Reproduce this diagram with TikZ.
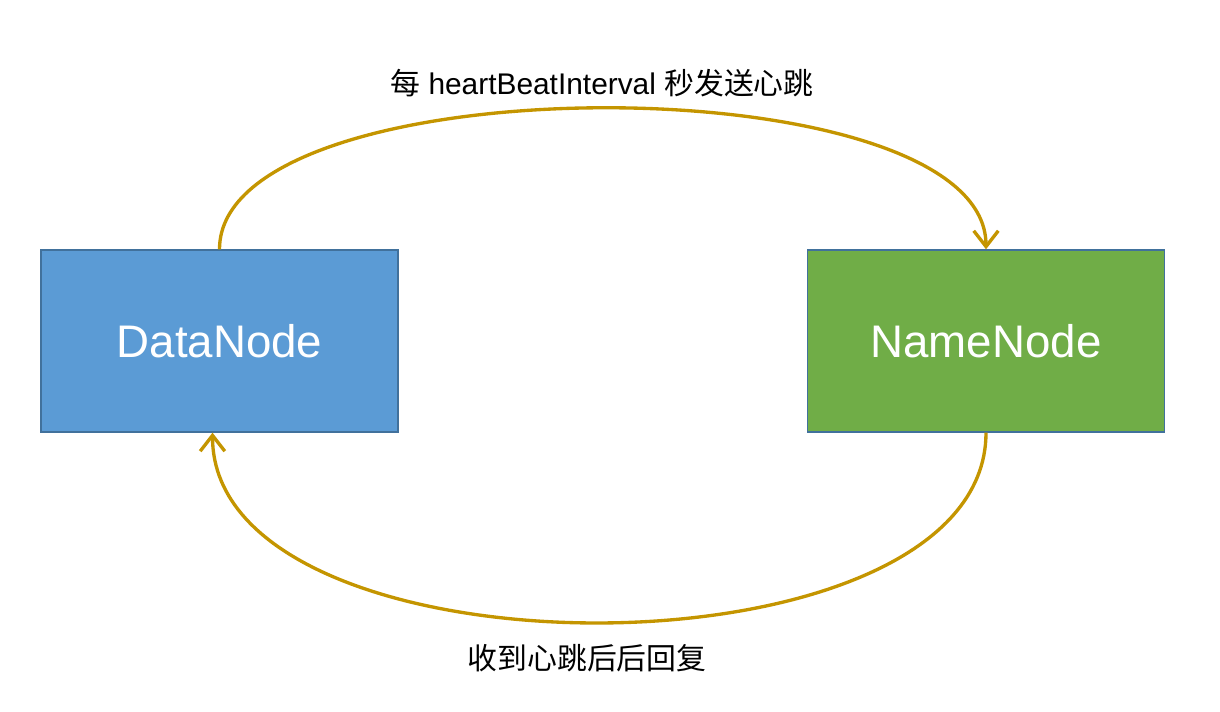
\documentclass[tikz,border=0pt]{standalone}
\usepackage{fontspec}
\setmainfont{Liberation Sans}
\newfontfamily\cjk{Noto Sans CJK SC}
\usetikzlibrary{arrows.meta}
\definecolor{dnblue}{HTML}{5B9BD5}
\definecolor{nngreen}{HTML}{70AD47}
\definecolor{boxline}{HTML}{41719C}
\definecolor{beat}{HTML}{C49500}

\begin{document}
\begin{tikzpicture}[x=0.02cm, y=-0.02cm]
  \tikzset{
    hostbox/.style={draw=boxline, line width=0.8pt, minimum width=7.14cm, minimum height=3.64cm,
      text=white, font=\fontsize{26}{30}\selectfont},
    beatline/.style={draw=beat, line width=1.9pt, -{Straight Barb[length=9pt, width=14pt]}},
    beatlabel/.style={font=\fontsize{17}{20}\selectfont}
  }
  \useasboundingbox (0,0) rectangle (1220,712);
  % the two hosts
  \node[hostbox, fill=dnblue] (dn) at (219.5, 341) {DataNode};
  \node[hostbox, fill=nngreen] (nn) at (986, 341) {NameNode};
  % heartbeat and reply
  \draw[beatline] (dn.north) .. controls +(0,-188) and +(0,-188) .. (nn.north);
  \draw[beatline] (nn.south) .. controls +(0,253) and +(0,253) .. ([xshift=-0.14cm]dn.south);
  \node[beatlabel] (send) at (602, 83) {{\cjk 每} heartBeatInterval {\cjk 秒发送心跳}};
  \node[beatlabel] (reply) at (587, 658) {\cjk 收到心跳后后回复};
\end{tikzpicture}
\end{document}
